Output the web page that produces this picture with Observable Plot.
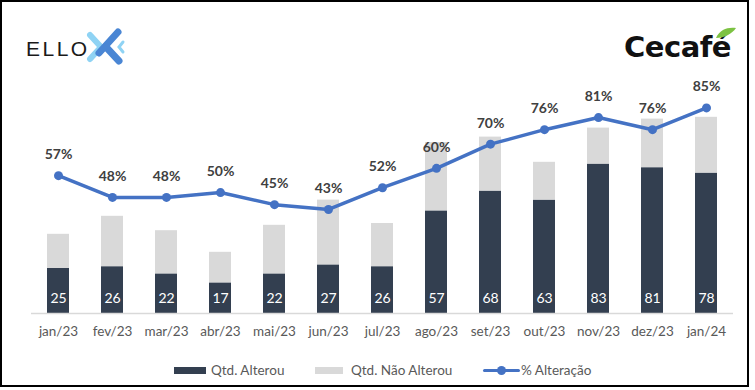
<!DOCTYPE html>
<html><head><meta charset="utf-8">
<script src="https://cdn.jsdelivr.net/npm/d3@7"></script>
<script src="https://cdn.jsdelivr.net/npm/@observablehq/plot@0.6"></script>
<style>
body{margin:0;background:#fff;}
#wrap{position:relative;width:755px;height:390px;font-family:Lato,"Open Sans",sans-serif;overflow:hidden;}
#frame{position:absolute;left:0;top:0;width:745px;height:383px;border:2px solid #000;pointer-events:none;}
#chart{position:absolute;left:0;top:0;}
.logo{position:absolute;}
#legend{position:absolute;top:361px;left:0;width:755px;height:18px;font-size:13.5px;color:#595959;}
#legend span{position:absolute;top:0;line-height:18px;white-space:nowrap;}
.sw{position:absolute;}
</style></head>
<body>
<div id="wrap">
  <div id="chart"></div>
  <div class="logo" style="left:26px;top:34px;font-family:'Liberation Sans',Arial,sans-serif;font-size:21px;letter-spacing:2.5px;color:#1a1a1a;line-height:30px;">ELLO</div>
  <svg class="logo" style="left:86px;top:27px" width="40" height="40" viewBox="0 0 40 40">
    <path d="M4 8 L15 20 L4 32" fill="none" stroke="#8fd3f4" stroke-width="6" stroke-linecap="round" stroke-linejoin="round"/>
    <path d="M32 5 L13 26" fill="none" stroke="#4a86d4" stroke-width="7" stroke-linecap="round"/>
    <path d="M20 20 L33 34" fill="none" stroke="#4a86d4" stroke-width="7" stroke-linecap="round"/>
    <path d="M37 15 L33 20 L37 25" fill="none" stroke="#8fd3f4" stroke-width="3" stroke-linecap="round"/>
  </svg>
  <div class="logo" style="left:624px;top:27px;font-family:'DejaVu Sans',sans-serif;font-weight:bold;font-size:29px;letter-spacing:-0.5px;color:#111;line-height:40px;">Cecafé</div>
  <svg class="logo" style="left:714px;top:26px" width="24" height="14" viewBox="0 0 24 14">
    <path d="M2 12 C6 3, 14 1, 22 2 C18 8, 10 12, 2 12 Z" fill="#7cc242"/>
  </svg>
  <div id="legend">
    <div class="sw" style="left:174px;top:6px;width:32px;height:7px;background:#333F50"></div>
    <span style="left:211px">Qtd. Alterou</span>
    <div class="sw" style="left:315px;top:6px;width:28px;height:7px;background:#D9D9D9"></div>
    <span style="left:351px">Qtd. Não Alterou</span>
    <div class="sw" style="left:483px;top:8px;width:37px;height:3px;background:#4472C4;border-radius:2px"></div>
    <div class="sw" style="left:497px;top:5px;width:9px;height:9px;background:#4472C4;border-radius:50%"></div>
    <span style="left:521px">% Alteração</span>
  </div>
  <div id="frame"></div>
</div>
<script>
const months = ["jan/23","fev/23","mar/23","abr/23","mai/23","jun/23","jul/23","ago/23","set/23","out/23","nov/23","dez/23","jan/24"];
const alterou = [25,26,22,17,22,27,26,57,68,63,83,81,78];
const naoAlterou = [19,28,24,17,27,36,24,38,30,21,20,27,31];
const pctAlteracao = [57,48,48,50,45,43,52,60,70,76,81,76,85];

const rows = months.map((m,i)=>({m, a: alterou[i], n: naoAlterou[i], t: alterou[i]+naoAlterou[i], p: pctAlteracao[i]}));
const yMax = 120, pctMax = 89.3;
const py = d => d.p / pctMax * yMax;

const chart = Plot.plot({
  width: 755, height: 390,
  marginTop: 97, marginBottom: 77, marginLeft: 31, marginRight: 22,
  style: {fontFamily: "Lato, 'Open Sans', sans-serif", background: "transparent", color: "#595959", overflow: "visible"},
  x: {domain: months, paddingInner: 0.59, paddingOuter: 0.295, label: null, axis: null},
  y: {domain: [0, yMax], axis: null},
  marks: [
    Plot.barY(rows, {x: "m", y1: 0, y2: "a", fill: "#333F50"}),
    Plot.barY(rows, {x: "m", y1: "a", y2: "t", fill: "#D9D9D9"}),
    Plot.ruleY([0], {stroke: "#D9D9D9", strokeWidth: 1.5}),
    Plot.text(rows, {x: "m", y: 0, text: d => String(d.a), dy: -15, fill: "white", fontSize: 14}),
    Plot.line(rows, {x: "m", y: py, stroke: "#4472C4", strokeWidth: 3.5}),
    Plot.dot(rows, {x: "m", y: py, r: 4.5, fill: "#4472C4"}),
    Plot.text(rows, {x: "m", y: py, text: d => d.p + "%", dy: -21, fill: "#404040", fontWeight: "bold", fontSize: 14}),
    Plot.axisX({tickSize: 0, tickPadding: 13, fontSize: 13.5, fill: "#595959", label: null})
  ]
});
document.getElementById("chart").appendChild(chart);
</script>
</body></html>
